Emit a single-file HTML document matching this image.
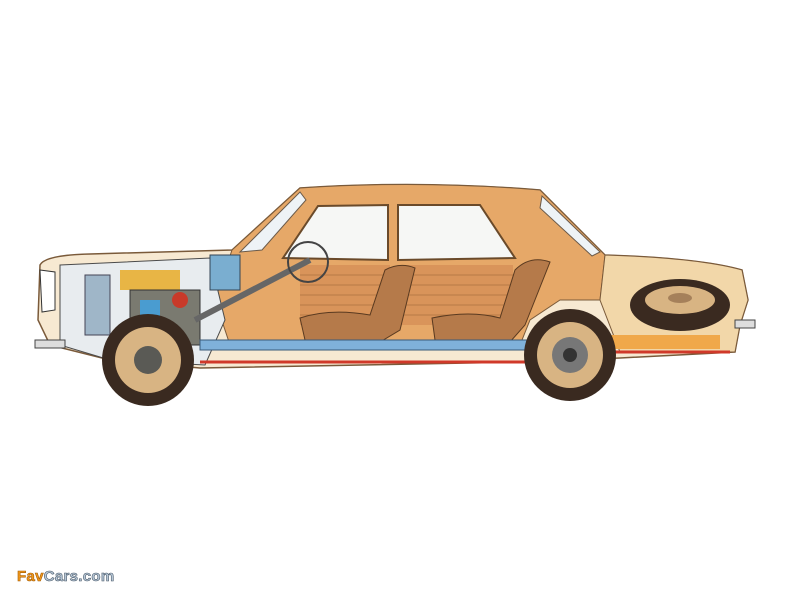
<!DOCTYPE html>
<html><head><meta charset="utf-8"><style>
html,body{margin:0;padding:0;background:#fff;width:800px;height:600px;overflow:hidden}
.logo{position:absolute;left:17px;top:568px;font:bold 15px "Liberation Sans",sans-serif;letter-spacing:0.3px}
.logo .a{color:#f39a1e;-webkit-text-stroke:0.6px #a35a00}.logo .b{color:#b8c8d8;-webkit-text-stroke:0.6px #4a5a6a}
</style></head><body>
<svg width="800" height="600" viewBox="0 0 800 600" style="position:absolute;left:0;top:0">
<path d="M40,265 Q45,255 90,254 L232,250 L300,188 Q420,180 540,190 L605,255 Q700,258 742,270 L748,300 L740,325 L735,352 L620,358 L520,362 L200,368 L110,360 L50,345 L38,320 Z" fill="#f7e9d2" stroke="#7a5a3a" stroke-width="1.5"/>
<path d="M232,250 L300,188 Q420,180 540,190 L605,255 L600,300 L560,300 L530,320 L520,345 L230,345 L215,300 Z" fill="#e6a868" stroke="#7a5a3a" stroke-width="1"/>
<path d="M605,255 Q700,258 742,270 L748,300 L740,325 L735,352 L620,352 L600,300 Z" fill="#f2d7a9" stroke="#7a5a3a"/>
<path d="M240,252 L300,192 L306,200 L262,250 Z" fill="#eef3f6" stroke="#6a5a4a"/>
<path d="M542,196 L600,252 L592,256 L540,208 Z" fill="#eef3f6" stroke="#6a5a4a"/>
<path d="M283,258 L318,206 L388,205 L388,260 Z" fill="#f6f7f5" stroke="#6a4a2a" stroke-width="2"/>
<path d="M398,205 L480,205 L515,258 L398,260 Z" fill="#f6f7f5" stroke="#6a4a2a" stroke-width="2"/>
<rect x="300" y="265" width="90" height="60" fill="#d9945a"/>
<rect x="398" y="265" width="115" height="60" fill="#d9945a"/>
<g stroke="#b87a45" stroke-width="1">
<line x1="300" y1="275" x2="390" y2="275"/><line x1="300" y1="285" x2="390" y2="285"/><line x1="300" y1="295" x2="390" y2="295"/><line x1="300" y1="305" x2="390" y2="305"/><line x1="300" y1="315" x2="390" y2="315"/>
<line x1="398" y1="275" x2="513" y2="275"/><line x1="398" y1="285" x2="513" y2="285"/><line x1="398" y1="295" x2="513" y2="295"/><line x1="398" y1="305" x2="513" y2="305"/><line x1="398" y1="315" x2="513" y2="315"/>
</g>
<path d="M305,340 L300,318 Q330,308 370,315 L385,270 Q400,262 415,268 L400,330 L380,342 Z" fill="#b57a4a" stroke="#5a3a20"/>
<path d="M435,340 L432,318 Q470,310 500,318 L515,270 Q530,255 550,262 L525,325 L510,342 Z" fill="#b57a4a" stroke="#5a3a20"/>
<path d="M60,265 L210,258 L225,320 L205,365 L110,360 L60,345 Z" fill="#e8ecef" stroke="#4a4a4a"/>
<rect x="120" y="270" width="60" height="20" fill="#e8b545"/>
<rect x="85" y="275" width="25" height="60" fill="#9fb6c8" stroke="#445"/>
<rect x="130" y="290" width="70" height="55" fill="#7a7a70" stroke="#333"/>
<rect x="140" y="300" width="20" height="30" fill="#4a9cd0"/>
<circle cx="180" cy="300" r="8" fill="#c83a2a"/>
<rect x="210" y="255" width="30" height="35" fill="#7aaed0" stroke="#345"/>
<line x1="195" y1="320" x2="310" y2="260" stroke="#666" stroke-width="6"/>
<circle cx="308" cy="262" r="20" fill="none" stroke="#444" stroke-width="2"/>
<path d="M40,270 L55,272 L55,310 L42,312 Z" fill="#fff" stroke="#333"/>
<rect x="200" y="340" width="340" height="10" fill="#7fb1da" stroke="#3a5a7a"/>
<line x1="200" y1="362" x2="540" y2="362" stroke="#d0392a" stroke-width="3"/>
<line x1="590" y1="352" x2="730" y2="352" stroke="#d0392a" stroke-width="3"/>
<rect x="600" y="335" width="120" height="14" fill="#f0a84a"/>
<path d="M540,340 Q575,310 610,340" fill="none" stroke="#d0392a" stroke-width="5"/>
<circle cx="148" cy="360" r="46" fill="#3a2a20"/>
<circle cx="148" cy="360" r="33" fill="#d8b483"/>
<circle cx="148" cy="360" r="14" fill="#5a5a55"/>
<circle cx="570" cy="355" r="46" fill="#3a2a20"/>
<circle cx="570" cy="355" r="33" fill="#d8b483"/>
<circle cx="570" cy="355" r="18" fill="#777"/>
<circle cx="570" cy="355" r="7" fill="#333"/>
<ellipse cx="680" cy="305" rx="50" ry="26" fill="#3a2a20"/>
<ellipse cx="680" cy="300" rx="35" ry="14" fill="#d8b483"/>
<ellipse cx="680" cy="298" rx="12" ry="5" fill="#a5805a"/>
<rect x="35" y="340" width="30" height="8" fill="#ddd" stroke="#444"/>
<rect x="735" y="320" width="20" height="8" fill="#ddd" stroke="#444"/>
</svg>
<div class="logo"><span class="a">Fav</span><span class="b">Cars.com</span></div>
</body></html>
